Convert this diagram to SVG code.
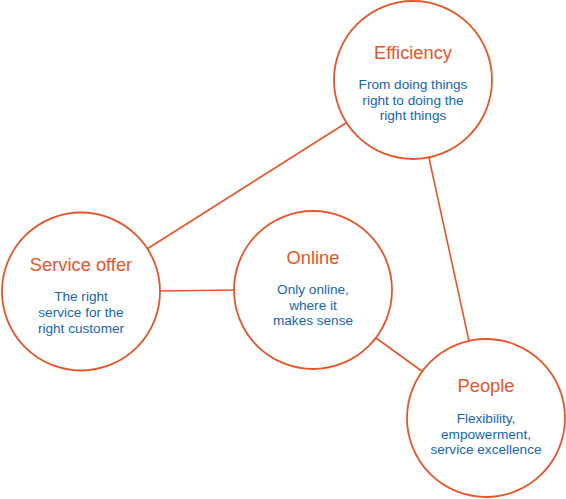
<svg xmlns="http://www.w3.org/2000/svg" width="566" height="499" viewBox="0 0 566 499">
<style>
.c{fill:#fff;stroke:#e8542a;stroke-width:1.8}
.l{stroke:#e8542a;stroke-width:1.6;fill:none}
.t{font-family:"Liberation Sans",Arial,sans-serif;font-size:18.3px;fill:#e8542a;text-anchor:middle}
.b{font-family:"Liberation Sans",Arial,sans-serif;font-size:13.6px;fill:#1565b0;text-anchor:middle}
</style>
<rect width="566" height="499" fill="#fff"/>
<g id="connectors">
<line class="l" x1="346" y1="123" x2="147" y2="249"/>
<line class="l" x1="160" y1="291" x2="234" y2="290"/>
<line class="l" x1="376" y1="338" x2="423" y2="372"/>
<line class="l" x1="429" y1="158" x2="469" y2="341"/>
</g>
<g id="efficiency">
<circle class="c" cx="413" cy="80" r="79"/>
<text class="t" x="413" y="59">Efficiency</text>
<text class="b" x="413" y="89">From doing things</text>
<text class="b" x="413" y="104.5">right to doing the</text>
<text class="b" x="413" y="120">right things</text>
</g>
<g id="service-offer">
<circle class="c" cx="81" cy="291.5" r="79"/>
<text class="t" x="81" y="271">Service offer</text>
<text class="b" x="81" y="301">The right</text>
<text class="b" x="81" y="317">service for the</text>
<text class="b" x="81" y="333">right customer</text>
</g>
<g id="online">
<circle class="c" cx="313" cy="290" r="79"/>
<text class="t" x="313" y="264">Online</text>
<text class="b" x="313" y="294">Only online,</text>
<text class="b" x="313" y="309.5">where it</text>
<text class="b" x="313" y="325">makes sense</text>
</g>
<g id="people">
<circle class="c" cx="486" cy="418" r="79"/>
<text class="t" x="486" y="392">People</text>
<text class="b" x="486" y="423">Flexibility,</text>
<text class="b" x="486" y="438.5">empowerment,</text>
<text class="b" x="486" y="454">service excellence</text>
</g>
</svg>
